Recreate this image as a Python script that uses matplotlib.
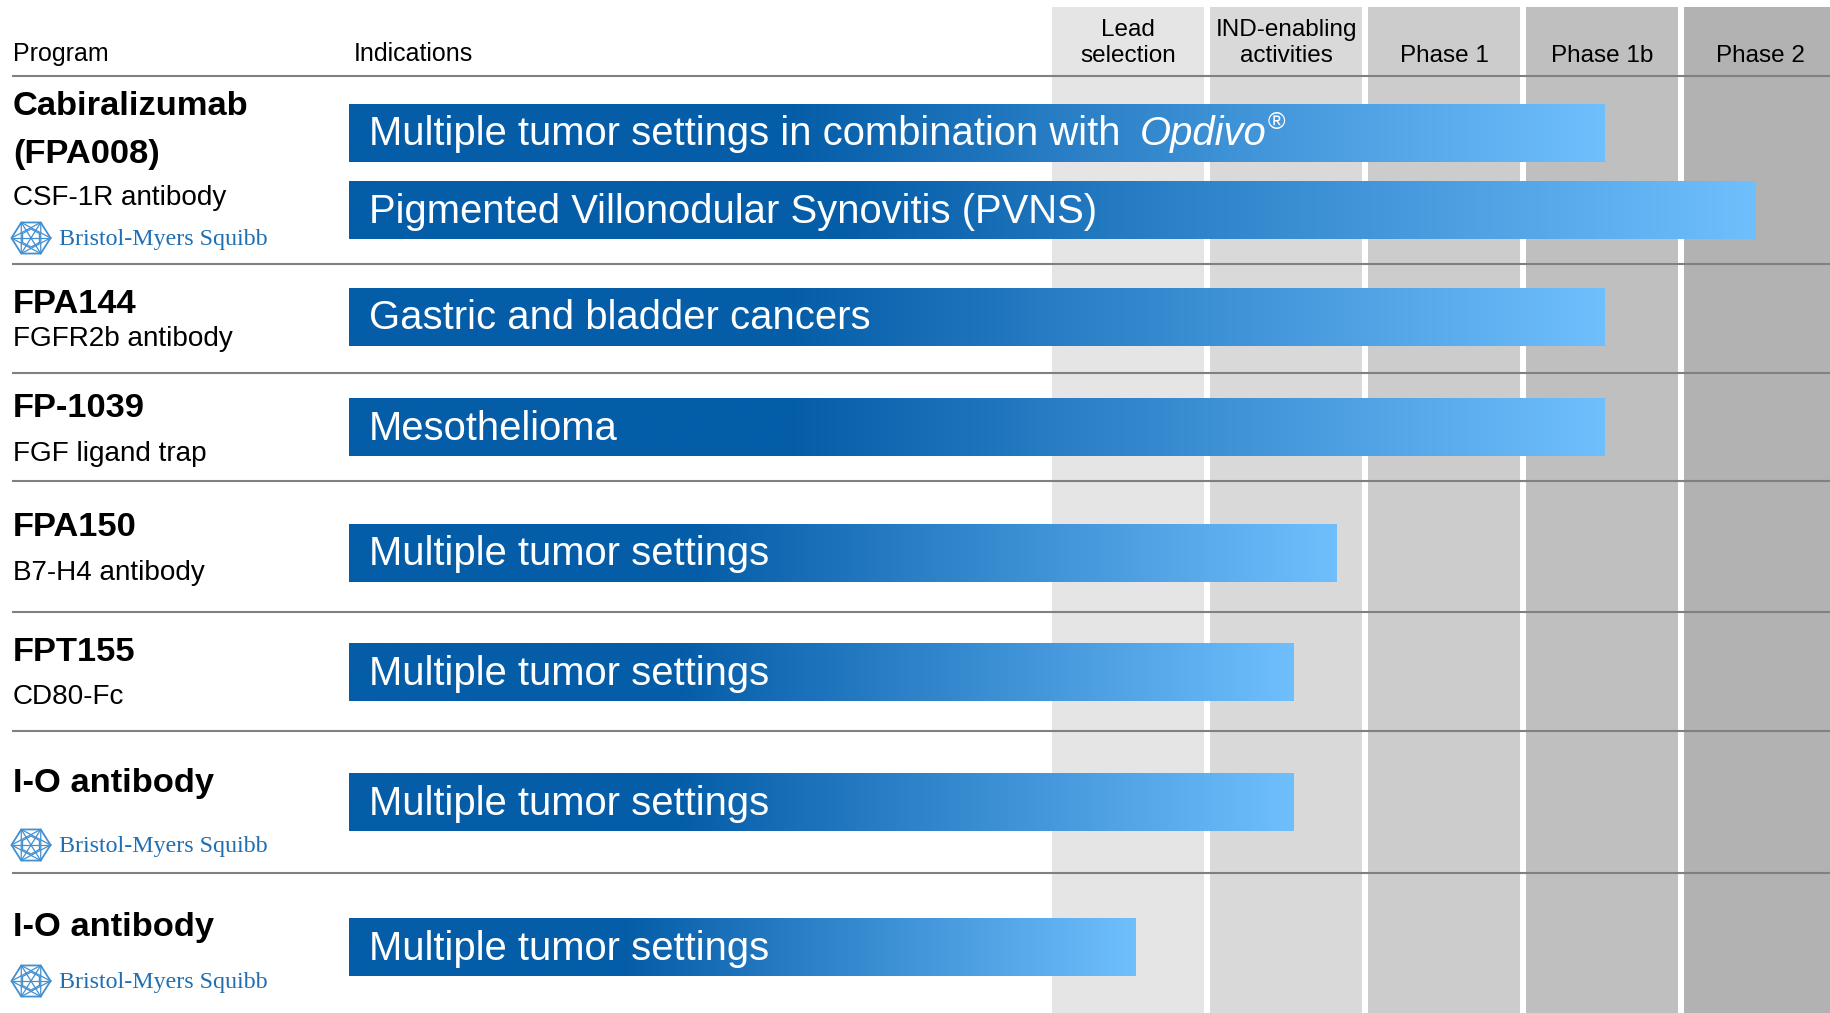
import numpy as np
import matplotlib
matplotlib.use("Agg")
import matplotlib.pyplot as plt
from matplotlib.colors import LinearSegmentedColormap

plt.rcParams['font.family'] = ['Liberation Sans', 'DejaVu Sans']

# ---------------- data ----------------
phases = ["Lead\nselection", "IND-enabling\nactivities", "Phase 1", "Phase 1b", "Phase 2"]
phase_colors = ["#e5e5e5", "#d9d9d9", "#cccccc", "#bfbfbf", "#b2b2b2"]
programs = ["Cabiralizumab\n(FPA008)", "FPA144", "FP-1039", "FPA150", "FPT155",
            "I-O antibody", "I-O antibody"]
targets = ["CSF-1R antibody", "FGFR2b antibody", "FGF ligand trap", "B7-H4 antibody",
           "CD80-Fc", "", ""]
bms_partner = [True, False, False, False, False, True, True]
indications = ["Multiple tumor settings in combination with",
               "Pigmented Villonodular Synovitis (PVNS)",
               "Gastric and bladder cancers",
               "Mesothelioma",
               "Multiple tumor settings",
               "Multiple tumor settings",
               "Multiple tumor settings",
               "Multiple tumor settings"]
# progress of each indication, in phase units (0 = start of Lead selection)
progress = [3.5, 4.45, 3.5, 3.5, 1.8, 1.53, 1.53, 0.53]

# ---------------- layout ----------------
W, H = 1831, 1013
PX0, PW = 1052, 158          # pixel of phase 0, pixels per phase
COLW = 152 / 158             # column width in phase units
BAR_START = (349 - PX0) / PW
bar_y = [133, 210.5, 317, 427.5, 553, 672.5, 802.5, 947.5]
bar_h = 58
DY = 2.0                      # text nudge
name_y = [104, 302, 406, 525, 650, 781, 925]
sub_y = [196, 337, 452, 571, 695, None, None]
logo_y = [238, None, None, None, None, 845, 981]
sep_y = [76, 264, 372.5, 481, 612, 731, 873]

fig = plt.figure(figsize=(W / 100, H / 100), dpi=100)
ax = fig.add_axes([0, 0, 1, 1])
ax.axis('off')

# phase columns
ax.bar(np.arange(len(phases)), H, bottom=7, width=COLW, align='edge',
       color=phase_colors, zorder=1)
for i, ph in enumerate(phases):
    lines = ph.split("\n")
    ys = [28, 54] if len(lines) == 2 else [54]
    for ln, yy in zip(lines, ys):
        ax.text(i + COLW / 2, yy + DY, ln, ha='center', va='center', fontsize=17.5,
                color='black', zorder=5)

# gradient bars
cmap = LinearSegmentedColormap.from_list(
    'bar', [(0, '#055DA8'), (0.35, '#055DA8'), (1, '#6FBFFD')])
grad = np.linspace(0, 1, 512).reshape(1, -1)
rects = ax.barh(bar_y, np.array(progress) - BAR_START, left=BAR_START,
                height=bar_h, color='none', zorder=3)
for r in rects:
    x0, y0, w, h = r.get_x(), r.get_y(), r.get_width(), r.get_height()
    ax.imshow(grad, cmap=cmap, extent=(x0, x0 + w, y0 + h, y0), aspect='auto',
              interpolation='bilinear', zorder=3)

for txt, yy in zip(indications, bar_y):
    t = ax.annotate(txt, xy=(BAR_START, yy + 1), xytext=(20, 0), textcoords='offset pixels',
                    va='center', ha='left', fontsize=28.8, color='white', zorder=6)
    if txt.endswith("with"):
        t2 = ax.annotate("Opdivo", xy=(1, 0.5), xycoords=t, xytext=(19, 0),
                         textcoords='offset pixels', va='center', ha='left',
                         fontsize=28.8, style='italic', color='white', zorder=6)
        ax.annotate("®", xy=(1, 1), xycoords=t2, xytext=(1, 3),
                    textcoords='offset pixels', va='top', ha='left',
                    fontsize=17, color='white', zorder=6)

ax.set_xlim(-PX0 / PW, (W - PX0) / PW)
ax.set_ylim(H, 0)

# ---------------- layout overlay (pixel coords) ----------------
lay = fig.add_axes([0, 0, 1, 1], zorder=2)
lay.set_xlim(0, W)
lay.set_ylim(H, 0)
lay.axis('off')
lay.patch.set_alpha(0)

for yy in sep_y:
    lay.plot([12, W], [yy, yy], color='#808080', lw=1.5, solid_capstyle='butt')

lay.text(13, 52 + DY, "Program", fontsize=18, va='center', ha='left')
lay.text(354, 52 + DY, "Indications", fontsize=18, va='center', ha='left')


def bms_logo(cy):
    cx, r = 31, 19.5
    ang = np.deg2rad(np.arange(0, 361, 60))
    vx, vy = cx + r * np.cos(ang), cy + r * np.sin(ang) * 0.92
    c = '#4390d0'
    lay.plot(vx, vy, color=c, lw=1.3)
    for k in range(6):
        lay.plot([cx, vx[k]], [cy, vy[k]], color=c, lw=0.9)
    for start in (0, 1):
        idx = [start, start + 2, start + 4, start]
        lay.plot(vx[idx], vy[idx], color=c, lw=0.9)
    ri = r * 0.5
    ang2 = ang + np.deg2rad(30)
    lay.plot(cx + ri * np.cos(ang2), cy + ri * np.sin(ang2) * 0.92, color=c, lw=0.9)
    lay.text(59, cy + 1, "Bristol-Myers Squibb", family='Liberation Serif', fontsize=17.3,
             color='#1f6fb2', va='center', ha='left')


for name, ny, tg, sy, partner, ly in zip(programs, name_y, targets, sub_y,
                                          bms_partner, logo_y):
    for k, ln in enumerate(name.split("\n")):
        lay.text(13, ny + 48 * k + DY, ln, fontsize=24.8, fontweight='bold',
                 va='center', ha='left')
    if tg:
        lay.text(13, sy + DY, tg, fontsize=20.1, va='center', ha='left')
    if partner:
        bms_logo(ly)

fig.savefig("out.png", dpi=100)
